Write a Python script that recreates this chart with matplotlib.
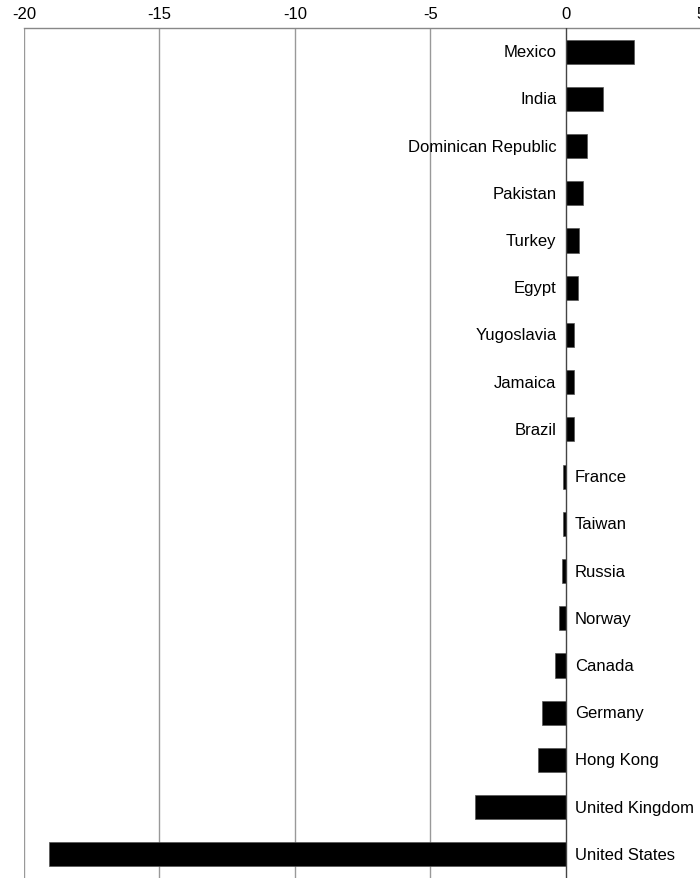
import numpy as np
import matplotlib
matplotlib.use("Agg")
import matplotlib.pyplot as plt

plt.rcParams['font.family'] = ['Liberation Sans', 'DejaVu Sans']

countries = ['Mexico', 'India', 'Dominican Republic', 'Pakistan', 'Turkey',
             'Egypt', 'Yugoslavia', 'Jamaica', 'Brazil', 'France', 'Taiwan',
             'Russia', 'Norway', 'Canada', 'Germany', 'Hong Kong',
             'United Kingdom', 'United States']
values = [2.51, 1.37, 0.79, 0.63, 0.48, 0.44, 0.32, 0.32, 0.32,
          -0.11, -0.1, -0.15, -0.23, -0.39, -0.86, -1.03, -3.35, -19.06]
xticks = [-20, -15, -10, -5, 0, 5]

fig = plt.figure(figsize=(7, 8.79), dpi=100)
ax = fig.add_axes([24/700, 0, 677/700, 1 - 29/879])

y = np.arange(len(countries))
ax.barh(y, values, height=0.51, color='black', edgecolor='#555555', linewidth=0.5, zorder=3)

# grid lines, zero line a bit darker
for t in [-20, -15, -10, -5]:
    ax.axvline(t, color='#999999', linewidth=1, zorder=1)
ax.axvline(0, color='#444444', linewidth=1, zorder=4)

for yi, v, name in zip(y, values, countries):
    if v >= 0:
        ax.annotate(name, (0, yi), xytext=(-6.5, 0), textcoords='offset points',
                    ha='right', va='center', fontsize=12)
    else:
        ax.annotate(name, (0, yi), xytext=(6.5, 0), textcoords='offset points',
                    ha='left', va='center', fontsize=12)

ax.set_xlim(-20, 5)
ax.set_ylim(len(countries) - 0.5, -0.5)
ax.xaxis.tick_top()
ax.set_xticks(xticks)
ax.set_xticklabels([str(t) for t in xticks], fontsize=12)
ax.tick_params(axis='x', length=0, pad=5)
ax.set_yticks([])
for s in ['left', 'right', 'bottom']:
    ax.spines[s].set_visible(False)
ax.spines['top'].set_color('#888888')
ax.spines['top'].set_linewidth(1)

fig.savefig('out.png', dpi=100)
